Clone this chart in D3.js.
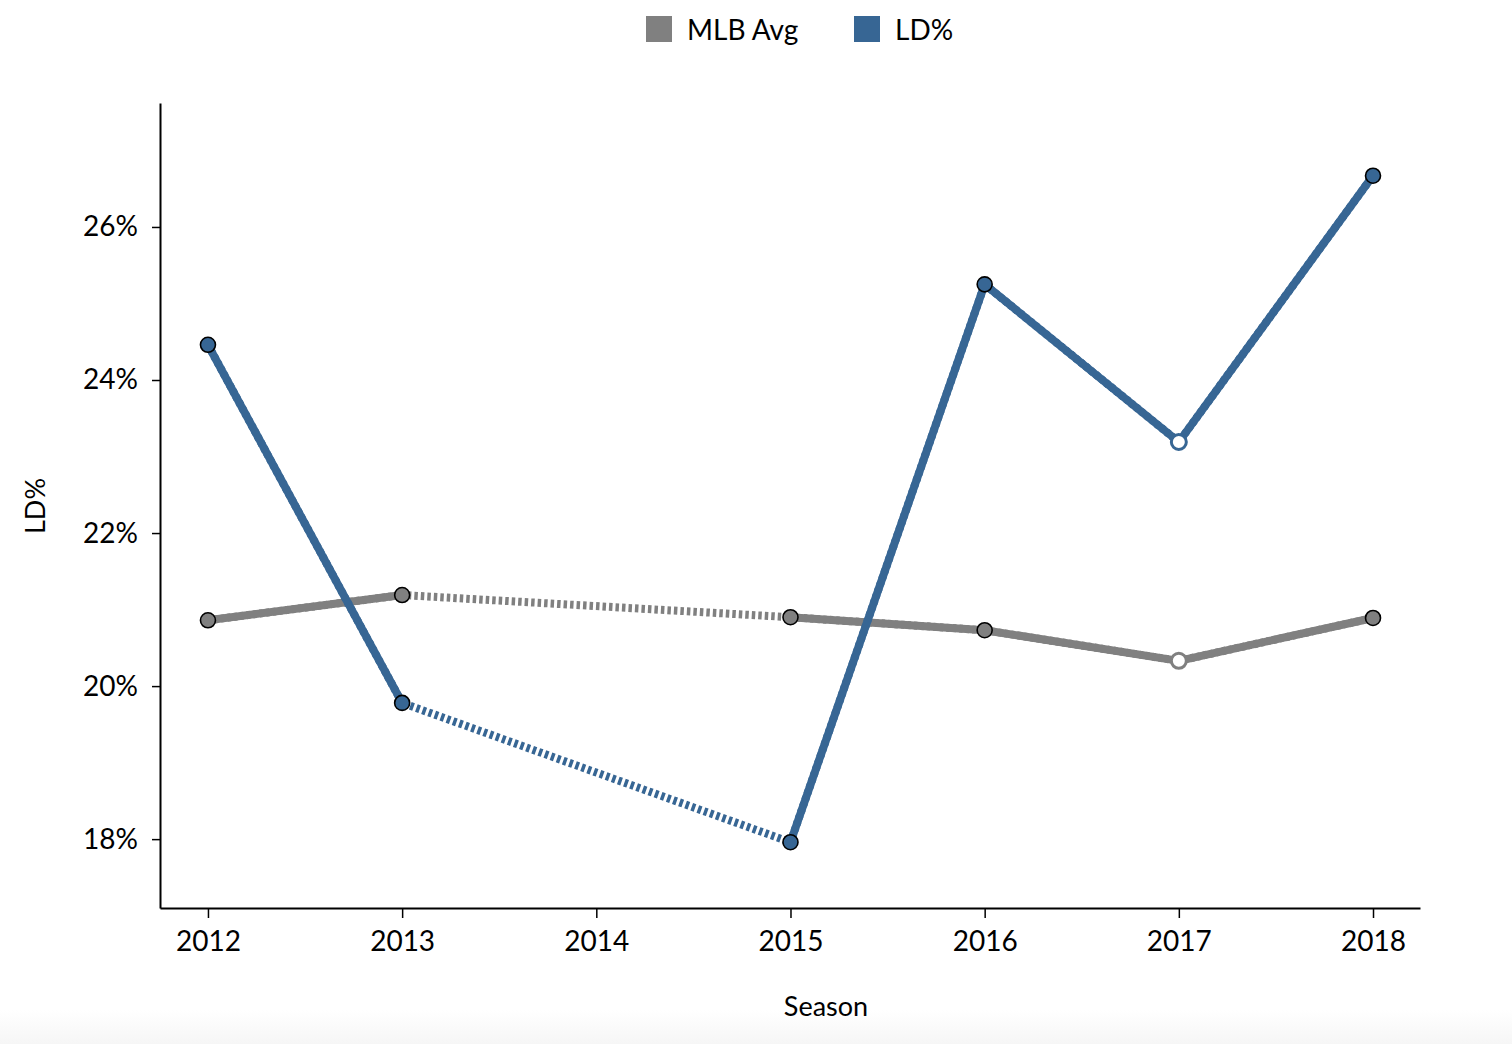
<!DOCTYPE html>
<html>
<head>
<meta charset="utf-8">
<script src="https://cdn.jsdelivr.net/npm/d3@7"></script>
<style>
  html, body { margin: 0; padding: 0; background: #fff; }
  body { width: 1512px; height: 1044px; overflow: hidden;
         background: linear-gradient(to bottom, #fff 0, #fff 1010px, #f6f6f6 1044px); }
  text { font-family: Lato, "Open Sans", sans-serif; fill: #000; }
</style>
</head>
<body>
<div id="chart"></div>
<script>
(function() {
    const seasons = [2012, 2013, 2014, 2015, 2016, 2017, 2018];
    const mlbAvg = [20.86, 21.19, null, 20.90, 20.73, 20.33, 20.89];
    const ldPct  = [24.46, 19.78, null, 17.96, 25.25, 23.19, 26.67];
    const hollow = [2017];
    const yTicks = [18, 20, 22, 24, 26];

    const series = [
        {name: 'MLB Avg', color: '#808080', values: mlbAvg},
        {name: 'LD%', color: '#376694', values: ldPct}
    ];

    const width = 1512, height = 1044;
    const margin = {top: 103, right: 92, bottom: 136, left: 160};

    const svg = d3.select('#chart')
        .append('svg')
        .attr('width', width)
        .attr('height', height);

    const x = d3.scaleLinear()
        .domain([2011.753, 2018.242])
        .range([margin.left, width - margin.right]);

    const y = d3.scaleLinear()
        .domain([17.1, 27.62])
        .range([height - margin.bottom, margin.top]);

    // axes
    const xAxis = svg.append('g')
        .attr('transform', `translate(0,${height - margin.bottom})`)
        .call(d3.axisBottom(x).tickValues(seasons).tickFormat(d3.format('d'))
            .tickSizeOuter(0).tickSizeInner(10).tickPadding(13));

    const yAxis = svg.append('g')
        .attr('transform', `translate(${margin.left},0)`)
        .call(d3.axisLeft(y).tickValues(yTicks).tickFormat(d => d + '%')
            .tickSizeOuter(0).tickSizeInner(8).tickPadding(14));

    [xAxis, yAxis].forEach(a => {
        a.select('.domain').attr('stroke', '#000').attr('stroke-width', 2);
        a.selectAll('.tick line').attr('stroke', '#000').attr('stroke-width', 1.5);
        a.selectAll('.tick text').style('font-size', '28px').attr('fill', '#000');
    });

    svg.append('text')
        .attr('x', 826).attr('y', 1016)
        .attr('text-anchor', 'middle')
        .style('font-size', '27px')
        .text('Season');

    svg.append('text')
        .attr('transform', 'translate(45,506) rotate(-90)')
        .attr('text-anchor', 'middle')
        .style('font-size', '27px')
        .text('LD%');

    // lines
    const line = d3.line()
        .defined(d => d.v != null)
        .x(d => x(d.s))
        .y(d => y(d.v));

    series.forEach(s => {
        const pts = seasons.map((yr, i) => ({s: yr, v: s.values[i]}));
        const present = pts.filter(d => d.v != null);

        // dashed connector over missing seasons
        svg.append('path')
            .datum(present)
            .attr('fill', 'none')
            .attr('stroke', s.color)
            .attr('stroke-width', 8)
            .attr('stroke-dasharray', '3.5,3')
            .attr('d', line);

        // solid only between consecutive seasons
        const solid = [];
        for (let i = 1; i < pts.length; i++) {
            if (pts[i].v != null && pts[i - 1].v != null) solid.push([pts[i - 1], pts[i]]);
        }
        svg.append('g').selectAll('path')
            .data(solid)
            .enter().append('path')
            .attr('fill', 'none')
            .attr('stroke', s.color)
            .attr('stroke-width', 8)
            .attr('stroke-linecap', 'butt')
            .attr('d', line);

        s.present = present;
    });

    series.forEach(s => {
        svg.append('g').selectAll('circle')
            .data(s.present)
            .enter().append('circle')
            .attr('cx', d => x(d.s))
            .attr('cy', d => y(d.v))
            .attr('r', 7.5)
            .attr('fill', d => hollow.includes(d.s) ? '#fff' : s.color)
            .attr('stroke', d => hollow.includes(d.s) ? s.color : '#000')
            .attr('stroke-width', d => hollow.includes(d.s) ? 3 : 1.6);
    });

    // legend
    const legend = svg.append('g');
    const legendX = [646, 854];
    series.forEach((s, i) => {
        legend.append('rect')
            .attr('x', legendX[i]).attr('y', 16)
            .attr('width', 26).attr('height', 26)
            .attr('fill', s.color);
        legend.append('text')
            .attr('x', legendX[i] + 41).attr('y', 40)
            .style('font-size', '28px')
            .text(s.name);
    });
})();
</script>
</body>
</html>
